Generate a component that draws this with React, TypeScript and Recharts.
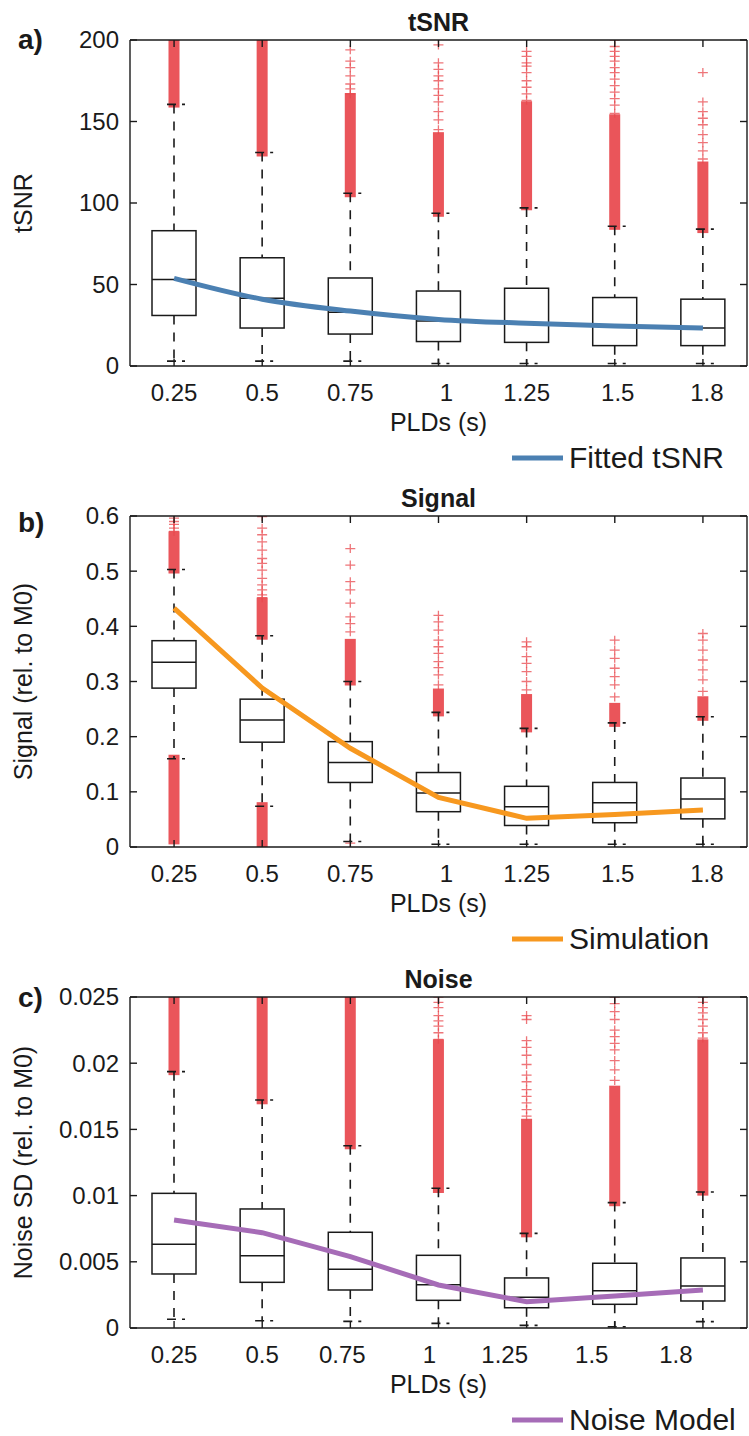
import { ComposedChart, Bar, Line, XAxis, YAxis } from 'recharts';

const plds = ['0.25', '0.5', '0.75', '1', '1.25', '1.5', '1.8'];

// a) tSNR
const tsnrLo = [3, 3, 3, 1.5, 1.5, 1.5, 1.5];
const tsnrQ1 = [31, 23.3, 19.6, 15, 14.5, 12.5, 12.5];
const tsnrMed = [53, 41.5, 33, 27.6, 26, 24.5, 23.3];
const tsnrQ3 = [83, 66.4, 54, 46, 47.7, 42, 41];
const tsnrHi = [160.5, 131, 106, 93.7, 97, 85.7, 84];
const tsnrFit = [53.8, 41, 33.7, 28.6, 26.2, 24.5, 23.3];
const tsnrBands = [[[161, 200]], [[131, 200]], [[106, 165]], [[94, 141]], [[98, 160]], [[86, 152]], [[84, 123]]];
const tsnrPoints = [
  [],
  [],
  [167, 170, 173, 178, 183, 187, 194],
  [145, 151, 156, 162, 166, 170, 175, 178, 182, 186, 197],
  [163, 167, 171, 175, 180, 184, 186, 190, 193],
  [155, 160, 164, 168, 172, 176, 180, 183, 187, 190, 193, 196, 200],
  [127, 132, 137, 142, 148, 152, 156, 162, 180],
];
const tsnrTicks = [0, 50, 100, 150, 200];

// b) Signal
const signalLo = [0.16, 0.074, 0.01, 0.005, 0.005, 0.005, 0.005];
const signalQ1 = [0.288, 0.19, 0.117, 0.064, 0.039, 0.044, 0.051];
const signalMed = [0.335, 0.23, 0.153, 0.098, 0.073, 0.08, 0.087];
const signalQ3 = [0.374, 0.268, 0.191, 0.135, 0.11, 0.117, 0.125];
const signalHi = [0.503, 0.383, 0.3, 0.244, 0.215, 0.225, 0.236];
const signalSim = [0.433, 0.288, 0.179, 0.09, 0.052, 0.059, 0.067];
const signalBands = [
  [[0.503, 0.565], [0.012, 0.16]],
  [[0.383, 0.445], [0.005, 0.074]],
  [[0.3, 0.37]],
  [[0.244, 0.28]],
  [[0.215, 0.27]],
  [[0.225, 0.254]],
  [[0.236, 0.266]],
];
const signalPoints = [
  [0.572, 0.578, 0.585, 0.59, 0.596],
  [0.452, 0.457, 0.466, 0.475, 0.487, 0.502, 0.514, 0.523, 0.538, 0.553, 0.566, 0.578, 0.599],
  [0.007, 0.39, 0.405, 0.417, 0.442, 0.466, 0.481, 0.511, 0.541],
  [0.294, 0.312, 0.325, 0.336, 0.351, 0.363, 0.375, 0.393, 0.408, 0.42],
  [0.285, 0.3, 0.318, 0.333, 0.345, 0.363, 0.372],
  [0.272, 0.294, 0.309, 0.324, 0.342, 0.357, 0.375],
  [0.282, 0.303, 0.321, 0.339, 0.357, 0.375, 0.387],
];
const signalTicks = [0, 0.1, 0.2, 0.3, 0.4, 0.5, 0.6];

// c) Noise
const noiseLo = [0.00066, 0.00055, 0.0005, 0.00035, 0.0002, 0.0001, 0.00048];
const noiseQ1 = [0.00408, 0.00345, 0.00287, 0.00209, 0.00153, 0.00179, 0.00204];
const noiseMed = [0.00632, 0.00546, 0.00443, 0.00327, 0.00232, 0.00282, 0.00317];
const noiseQ3 = [0.01017, 0.00899, 0.00723, 0.00549, 0.00378, 0.00489, 0.00529];
const noiseHi = [0.01936, 0.01722, 0.01377, 0.01055, 0.00715, 0.00947, 0.01027];
const noiseModel = [0.00816, 0.0072, 0.00539, 0.00325, 0.00199, 0.00242, 0.00287];
const noiseBands = [
  [[0.0194, 0.025]],
  [[0.0172, 0.025]],
  [[0.0138, 0.025]],
  [[0.0105, 0.0215]],
  [[0.00715, 0.0155]],
  [[0.0095, 0.018]],
  [[0.0103, 0.0215]],
];
const noisePoints = [
  [],
  [],
  [],
  [0.0218, 0.0223, 0.0228, 0.0232, 0.0236, 0.0242, 0.0246, 0.025],
  [0.016, 0.0165, 0.017, 0.0175, 0.018, 0.0186, 0.0191, 0.0199, 0.0206, 0.0212, 0.0217, 0.0233, 0.0236],
  [0.0187, 0.0195, 0.0202, 0.021, 0.0215, 0.022, 0.0225, 0.0233, 0.0239, 0.0245, 0.025],
  [0.0219, 0.0223, 0.0228, 0.0233, 0.0238, 0.0242, 0.0246, 0.025],
];
const noiseTicks = [0, 0.005, 0.01, 0.015, 0.02, 0.025];

// tick label nudges (the noise panel labels sit left of the boxes)
const labelShiftAB = [0, 0, 0, 8, 0, 3, 4];
const labelShiftC = [0, 0, -8, -9, -22, -23, -27];

const RED = '#e8474c';
const INK = '#1a1a1a';
const FONT = '"Liberation Sans", Arial, Helvetica, sans-serif';
const W = 749;
const LEFT = 130;
const EXTRA = 20; // spare room under each svg so the legend text is not clipped

function makeRows(lo: number[], q1: number[], med: number[], q3: number[], hi: number[], fit: number[], bands: number[][][], points: number[][]) {
  return plds.map((pld, i) => ({
    pld,
    whisker: [lo[i], hi[i]],
    q1: q1[i],
    med: med[i],
    q3: q3[i],
    fit: fit[i],
    bands: bands[i],
    points: points[i],
  }));
}

function BoxShape(props: any) {
  const { x, y, width, height, payload } = props;
  const [lo, hi] = payload.whisker;
  const k = height / (hi - lo);
  const py = (v: number) => y + (hi - v) * k;
  const cx = x + width / 2;
  const hw = width / 2;
  return (
    <g>
      {payload.bands.map(([a, b]: number[], i: number) => (
        <rect key={'b' + i} x={cx - 5.5} y={py(b) - 4} width={11} height={py(a) - py(b) + 8} fill={RED} fillOpacity={0.92} />
      ))}
      {payload.points.map((v: number, i: number) => (
        <path
          key={'p' + i}
          d={`M${cx - 5},${py(v)}h10M${cx},${py(v) - 4.5}v9`}
          stroke={RED}
          strokeWidth={1.3}
          strokeOpacity={0.75}
          fill="none"
        />
      ))}
      <line x1={cx} x2={cx} y1={py(hi)} y2={py(payload.q3)} stroke={INK} strokeWidth={1.6} strokeDasharray="9 8" />
      <line x1={cx} x2={cx} y1={py(payload.q1)} y2={py(lo)} stroke={INK} strokeWidth={1.6} strokeDasharray="9 8" />
      <line x1={cx - 7} x2={cx + 11} y1={py(hi)} y2={py(hi)} stroke={INK} strokeWidth={1.6} strokeDasharray="9 6" />
      <line x1={cx - 7} x2={cx + 11} y1={py(lo)} y2={py(lo)} stroke={INK} strokeWidth={1.6} strokeDasharray="9 6" />
      <rect x={cx - hw} y={py(payload.q3)} width={width} height={py(payload.q1) - py(payload.q3)} fill="none" stroke={INK} strokeWidth={1.5} />
      <line x1={cx - hw} x2={cx + hw} y1={py(payload.med)} y2={py(payload.med)} stroke={INK} strokeWidth={1.5} />
    </g>
  );
}

const NoLabel = () => <g />;

function XTick(props: any) {
  const { x, y, payload, index, shift } = props;
  return (
    <text x={x + (shift[index] || 0)} y={y} textAnchor="middle" fontSize={24} fill={INK} fontFamily={FONT}>
      {payload.value}
    </text>
  );
}

function YTick(props: any) {
  const { x, y, payload } = props;
  return (
    <text x={x} y={y} dy="0.35em" textAnchor="end" fontSize={24} fill={INK} fontFamily={FONT}>
      {String(payload.value)}
    </text>
  );
}

interface PanelProps {
  top: number;
  height: number;
  mt: number;
  mb: number;
  rows: any[];
  ticks: number[];
  color: string;
  curve: 'monotone' | 'linear';
  letter: string;
  letterY: number;
  title: string;
  yLabel: string;
  legend: string;
  shift: number[];
}

function Panel({ top, height, mt, mb, rows, ticks, color, curve, letter, letterY, title, yLabel, legend, shift }: PanelProps) {
  const plotTop = mt;
  const plotBottom = height - mb;
  const midX = (LEFT + W - 2) / 2;
  const midY = (plotTop + plotBottom) / 2;
  const domain = [ticks[0], ticks[ticks.length - 1]];
  return (
    <div style={{ position: 'absolute', left: 0, top }}>
      <ComposedChart
        width={W}
        height={height + EXTRA}
        data={rows}
        margin={{ top: mt - 1, right: 1, bottom: mb - 1 + EXTRA, left: 0 }}
      >
        <XAxis
          dataKey="pld"
          type="category"
          scale="band"
          height={1}
          stroke={INK}
          strokeWidth={1.4}
          tickSize={-7}
          tickMargin={42}
          tick={(p: any) => <XTick {...p} shift={shift} />}
          interval={0}
        />
        <XAxis
          xAxisId="top"
          dataKey="pld"
          type="category"
          scale="band"
          orientation="top"
          height={1}
          stroke={INK}
          strokeWidth={1.4}
          tickSize={-7}
          tick={NoLabel}
          interval={0}
        />
        <YAxis
          type="number"
          width={LEFT}
          domain={domain}
          ticks={ticks}
          allowDataOverflow
          stroke={INK}
          strokeWidth={1.4}
          tickSize={-7}
          tickMargin={18}
          tick={YTick}
          interval={0}
        />
        <YAxis
          yAxisId="right"
          orientation="right"
          type="number"
          width={1}
          domain={domain}
          ticks={ticks}
          allowDataOverflow
          stroke={INK}
          strokeWidth={1.4}
          tickSize={-7}
          tick={NoLabel}
          interval={0}
        />
        <Bar dataKey="whisker" barSize={44} shape={BoxShape} isAnimationActive={false} />
        <Line
          dataKey="fit"
          type={curve}
          stroke={color}
          strokeWidth={5}
          dot={false}
          activeDot={false}
          isAnimationActive={false}
        />
        <text x={18} y={letterY} fontSize={28} fontWeight="bold" fill={INK} fontFamily={FONT}>
          {letter}
        </text>
        <text x={midX} y={plotTop - 9} textAnchor="middle" fontSize={25} fontWeight="bold" fill={INK} fontFamily={FONT}>
          {title}
        </text>
        <text
          x={32}
          y={midY}
          transform={`rotate(-90 32 ${midY})`}
          textAnchor="middle"
          fontSize={25}
          fill={INK}
          fontFamily={FONT}
        >
          {yLabel}
        </text>
        <text x={midX} y={plotBottom + 65} textAnchor="middle" fontSize={25} fill={INK} fontFamily={FONT}>
          PLDs (s)
        </text>
        <line x1={512} x2={563} y1={plotBottom + 92} y2={plotBottom + 92} stroke={color} strokeWidth={5} />
        <text x={569} y={plotBottom + 102} fontSize={30} fill={INK} fontFamily={FONT}>
          {legend}
        </text>
      </ComposedChart>
    </div>
  );
}

export default function App() {
  const tsnrRows = makeRows(tsnrLo, tsnrQ1, tsnrMed, tsnrQ3, tsnrHi, tsnrFit, tsnrBands, tsnrPoints);
  const signalRows = makeRows(signalLo, signalQ1, signalMed, signalQ3, signalHi, signalSim, signalBands, signalPoints);
  const noiseRows = makeRows(noiseLo, noiseQ1, noiseMed, noiseQ3, noiseHi, noiseModel, noiseBands, noisePoints);
  return (
    <div style={{ position: 'absolute', left: 0, top: 0, width: W, height: 1436, overflow: 'hidden', background: '#fff', fontFamily: FONT }}>
      <Panel
        top={0}
        height={470}
        mt={40}
        mb={104}
        rows={tsnrRows}
        ticks={tsnrTicks}
        color="#4b80b2"
        curve="monotone"
        letter="a)"
        letterY={49}
        title="tSNR"
        yLabel="tSNR"
        legend="Fitted tSNR"
        shift={labelShiftAB}
      />
      <Panel
        top={470}
        height={485}
        mt={46}
        mb={108}
        rows={signalRows}
        ticks={signalTicks}
        color="#f7981f"
        curve="linear"
        letter="b)"
        letterY={62}
        title="Signal"
        yLabel="Signal (rel. to M0)"
        legend="Simulation"
        shift={labelShiftAB}
      />
      <Panel
        top={955}
        height={481}
        mt={42}
        mb={108}
        rows={noiseRows}
        ticks={noiseTicks}
        color="#a66cb7"
        curve="linear"
        letter="c)"
        letterY={52}
        title="Noise"
        yLabel="Noise SD (rel. to M0)"
        legend="Noise Model"
        shift={labelShiftC}
      />
    </div>
  );
}
